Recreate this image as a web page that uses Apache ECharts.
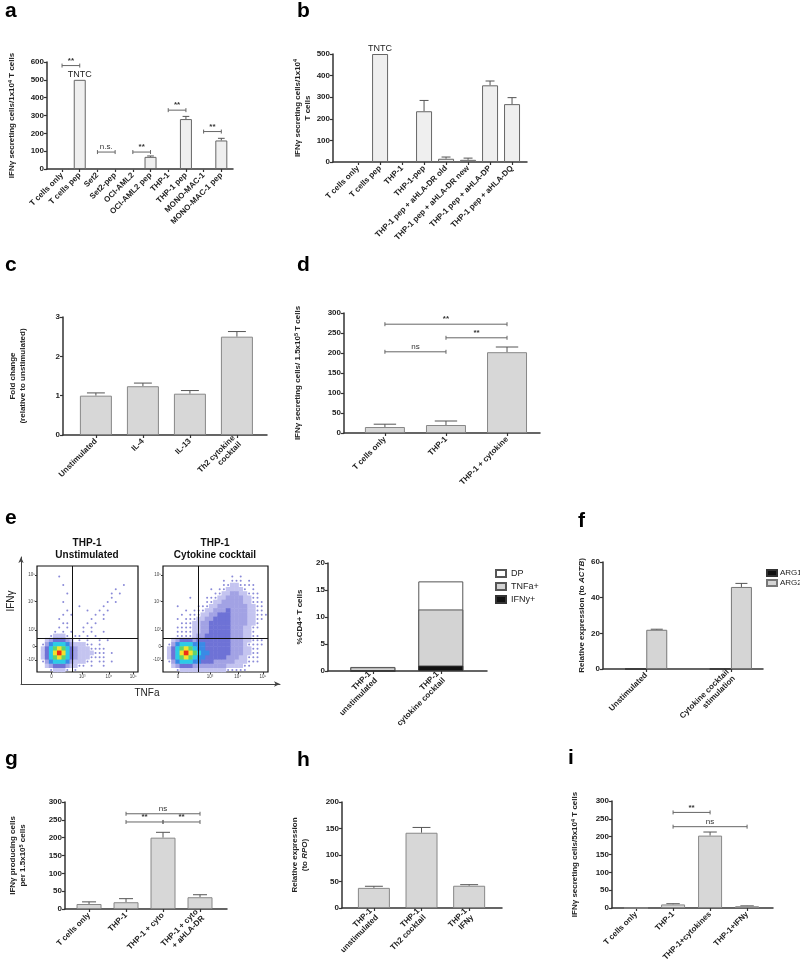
<!DOCTYPE html>
<html>
<head>
<meta charset="utf-8">
<script src="https://cdn.jsdelivr.net/npm/echarts@6/dist/echarts.min.js"></script>
<style>
  html, body { margin: 0; padding: 0; background: #fff; }
  #chart { width: 800px; height: 967px; }
</style>
</head>
<body>
<div id="chart"></div>
<script>
// ---------- data ----------
// a
const aCats = ['T cells only', 'T cells pep', 'Set2', 'Set2-pep', 'OCI-AML2', 'OCI-AML2 pep', 'THP-1', 'THP-1 pep', 'MONO-MAC-1', 'MONO-MAC-1 pep'];
const aVals = [0, 500, 0, 2, 0, 68, 0, 280, 0, 160];
const aErr = [0, 0, 0, 0, 0, 5, 0, 15, 0, 12];
const aSig = [[0, 1, 580, '**'], [2, 3, 95, 'n.s.'], [4, 5, 95, '**'], [6, 7, 330, '**'], [8, 9, 210, '**']];
const aNotes = [[1, 500, 'TNTC']];
// b
const bCats = ['T cells only', 'T cells pep', 'THP-1', 'THP-1-pep', 'THP-1 pep + aHLA-DR old', 'THP-1 pep + aHLA-DR new', 'THP-1 pep + aHLA-DP', 'THP-1 pep + aHLA-DQ'];
const bVals = [0, 500, 2, 235, 15, 10, 355, 268];
const bErr = [0, 0, 0, 50, 8, 8, 20, 30];
const bNotes = [[1, 500, 'TNTC']];
// c
const cCats = ['Unstimulated', 'IL-4', 'IL-13', 'Th2 cytokine\ncocktail'];
const cVals = [1.0, 1.24, 1.05, 2.5];
const cErr = [0.07, 0.08, 0.08, 0.13];
// d
const dCats = ['T cells only', 'THP-1', 'THP-1 + cytokine'];
const dVals = [15, 20, 202];
const dErr = [7, 10, 13];
const dSig = [[0, 2, 272, '**'], [1, 2, 238, '**'], [0, 1, 203, 'ns']];
// e (stacked: IFNy+ at the bottom, then TNFa+, then DP)
const eCats = ['THP-1\nunstimulated', 'THP-1\ncytokine cocktail'];
const eIFNy = [0, 1.0];
const eTNFa = [0.7, 10.4];
const eDP = [0.05, 5.2];
// e flow plots: density per cell, '.' = none, 1 = sparse dots ... 9 = densest
const flowUnstim = [
  '.........................',
  '.........................',
  '.....1...................',
  '.........................',
  '......1..............1...',
  '...................1.....',
  '.......1..........1.1....',
  '..................1......',
  '......1..........1.1.....',
  '..........1.....1........',
  '.......1....1..1.1.......',
  '......1.1.....1.1........',
  '.....1.......1..1........',
  '......11....1.1..........',
  '.....1.1...1.1...........',
  '....1.1.1..1.1..1........',
  '...12221.11.1.1..........',
  '..2344432.1.1..1.1.......',
  '.1356665322211.1.........',
  '.2467876432221111........',
  '.2468986432222111.1......',
  '.2467876432221111........',
  '.1356665322211.11.1......',
  '..2344432211.1..1........',
  '...12221.1...............'
];
const flowCyto = [
  '.........................',
  '.........................',
  '................1.1......',
  '..............1.111.1....',
  '..............11221111...',
  '...........1.1122221.1...',
  '............11223322111..',
  '......1...1112233332211..',
  '..........11223333322111.',
  '...1....1112233333332211.',
  '.....1.11122333433332211.',
  '....1.1112233444333322111',
  '...1.1112233444433332211.',
  '....1112233444443333221..',
  '...11112233444443332211..',
  '...1111223344444333221...',
  '...11112334444443332211..',
  '..2344434444444433322111.',
  '.13566655544444433321111.',
  '.2467876554444443332211..',
  '.2468987655444443332211..',
  '.2467876554444433322111..',
  '.1356665544433333222111..',
  '..2344433333333222211....',
  '...12222222222211111.....'
];
const flowXTicks = [3.6, 11.2, 17.8, 23.8];
const flowXLabels = ['0', '10³', '10⁴', '10⁵'];
const flowYTicks = [2.8, 6, 9.9, 16.6, 22.9];
const flowYLabels = ['-10³', '0', '10³', '10⁴', '10⁵'];
// f
const fCats = ['Unstimulated', 'Cytokine cocktail\nstimulation'];
const fARG1 = [0, 0];
const fARG2 = [22, 46];
const fARG2Err = [0.3, 2];
// g
const gCats = ['T cells only', 'THP-1', 'THP-1 + cyto', 'THP-1 + cyto\n+ aHLA-DR'];
const gVals = [14, 19, 200, 33];
const gErr = [6, 10, 15, 7];
const gSig = [[1, 3, 267, 'ns'], [1, 2, 244, '**'], [2, 3, 244, '**']];
// h
const hCats = ['THP-1\nunstimulated', 'THP-1\nTh2 cocktail', 'THP-1\nIFNy'];
const hVals = [38, 142, 42];
const hErr = [3, 10, 2];
// i
const iCats = ['T cells only', 'THP-1', 'THP-1+cytokines', 'THP-1+IFNy'];
const iVals = [0, 10, 203, 5];
const iErr = [0, 2, 10, 1];
const iSig = [[1, 2, 268, '**'], [1, 3, 228, 'ns']];

// ---------- helpers ----------
const FONT = '"Liberation Sans", Arial, sans-serif';
const AX = '#333';
const FLOW_N = 25;
const FLOW_COLORS = [null, '#8a8ad8', '#c4c4f0', '#a2a2e4', '#6e72d6', '#3a8ae6', '#2ccbe6', '#63d36a', '#f4e02c', '#ee2c16'];
const RICH = {
  sup: { fontSize: 5.5, fontWeight: 'bold', color: '#222', fontFamily: FONT, verticalAlign: 'top', lineHeight: 10 },
  it: { fontSize: 8, fontWeight: 'bold', fontStyle: 'italic', color: '#222', fontFamily: FONT, lineHeight: 10 }
};

const grids = [], xAxis = [], yAxis = [], series = [], legends = [], texts = [];

function addGrid(g) { grids.push(g); return grids.length - 1; }

function catX(gi, cats, min, max) {
  const ticks = cats.map((c, i) => i);
  xAxis.push({
    gridIndex: gi, type: 'value', min, max, splitLine: { show: false },
    axisLine: { show: true, onZero: false, lineStyle: { color: AX, width: 1.5 } },
    axisTick: { show: true, customValues: ticks, length: 3, lineStyle: { color: AX, width: 1.2 } },
    axisLabel: {
      customValues: ticks, formatter: v => cats[Math.round(v)], rotate: 45, margin: 5,
      fontSize: 8, fontWeight: 'bold', color: '#222', fontFamily: FONT, lineHeight: 9
    }
  });
}

function valY(gi, max, step, name, gap) {
  yAxis.push({
    gridIndex: gi, type: 'value', min: 0, max, interval: step, splitLine: { show: false },
    axisLine: { show: true, onZero: false, lineStyle: { color: AX, width: 1.5 } },
    axisTick: { show: true, length: 3, lineStyle: { color: AX, width: 1.2 } },
    axisLabel: { fontSize: 8, fontWeight: 'bold', color: '#222', fontFamily: FONT, margin: 3 },
    name, nameLocation: 'middle', nameRotate: 90, nameGap: gap,
    nameTextStyle: { fontSize: 8, fontWeight: 'bold', color: '#222', fontFamily: FONT, lineHeight: 10, rich: RICH }
  });
}

function barS(gi, xs, vals, width, fill, edge, extra) {
  series.push(Object.assign({
    type: 'bar', xAxisIndex: gi, yAxisIndex: gi, barWidth: width, barGap: '-100%', silent: true,
    data: vals.map((v, i) => [xs[i], v]),
    itemStyle: { color: fill, borderColor: edge, borderWidth: 1 }
  }, extra || {}));
}

function errS(gi, xs, vals, err, cap) {
  return {
    type: 'custom', xAxisIndex: gi, yAxisIndex: gi, silent: true,
    data: vals.map((v, i) => [xs[i], v, err[i]]),
    renderItem: (params, api) => {
      const e = api.value(2);
      if (!e) return null;
      const p0 = api.coord([api.value(0), api.value(1)]);
      const p1 = api.coord([api.value(0), api.value(1) + e]);
      const st = { stroke: '#555', lineWidth: 1 };
      return {
        type: 'group', children: [
          { type: 'line', shape: { x1: p0[0], y1: p0[1], x2: p1[0], y2: p1[1] }, style: st },
          { type: 'line', shape: { x1: p1[0] - cap, y1: p1[1], x2: p1[0] + cap, y2: p1[1] }, style: st }
        ]
      };
    }
  };
}

function sigS(gi, list) {
  return {
    type: 'custom', xAxisIndex: gi, yAxisIndex: gi, silent: true,
    data: list.map(s => [s[0], s[2], s[1]]),
    renderItem: (params, api) => {
      const s = list[params.dataIndex];
      const p0 = api.coord([s[0], s[2]]), p1 = api.coord([s[1], s[2]]);
      const st = { stroke: '#666', lineWidth: 1 };
      const bold = s[3].indexOf('*') >= 0;
      return {
        type: 'group', children: [
          { type: 'line', shape: { x1: p0[0], y1: p0[1], x2: p1[0], y2: p1[1] }, style: st },
          { type: 'line', shape: { x1: p0[0], y1: p0[1] - 2, x2: p0[0], y2: p0[1] + 2 }, style: st },
          { type: 'line', shape: { x1: p1[0], y1: p1[1] - 2, x2: p1[0], y2: p1[1] + 2 }, style: st },
          {
            type: 'text', x: (p0[0] + p1[0]) / 2, y: p0[1] - 1,
            style: {
              text: s[3], fill: '#333', font: (bold ? 'bold ' : '') + '8px ' + FONT,
              textAlign: 'center', align: 'center', textVerticalAlign: 'bottom', verticalAlign: 'bottom'
            }
          }
        ]
      };
    }
  };
}

function noteS(gi, list) {
  return {
    type: 'custom', xAxisIndex: gi, yAxisIndex: gi, silent: true,
    data: list.map(n => [n[0], n[1]]),
    renderItem: (params, api) => {
      const n = list[params.dataIndex];
      const p = api.coord([n[0], n[1]]);
      return {
        type: 'text', x: p[0], y: p[1] - 1,
        style: {
          text: n[2], fill: '#222', font: '9px ' + FONT,
          textAlign: 'center', align: 'center', textVerticalAlign: 'bottom', verticalAlign: 'bottom'
        }
      };
    }
  };
}

function barPanel(p) {
  const gi = addGrid({ left: p.left, top: p.top, width: p.width, height: p.height });
  catX(gi, p.cats, p.xMin, p.xMax);
  valY(gi, p.yMax, p.yStep, p.name, p.gap);
  const xs = p.cats.map((c, i) => i);
  barS(gi, xs, p.vals, p.barW, p.fill, p.edge);
  if (p.err) series.push(errS(gi, xs, p.vals, p.err, p.barW * 0.28));
  if (p.sig) series.push(sigS(gi, p.sig));
  if (p.notes) series.push(noteS(gi, p.notes));
  return gi;
}

function flowCells(rows) {
  const out = [];
  rows.forEach((r, ri) => {
    for (let c = 0; c < r.length; c++) {
      if (r[c] !== '.') out.push([c + 0.5, rows.length - ri - 0.5, +r[c]]);
    }
  });
  return out.sort((p, q) => p[2] - q[2]);
}

function pick(ticks, labels) {
  return v => {
    const k = ticks.findIndex(t => Math.abs(t - v) < 0.01);
    return k < 0 ? '' : labels[k];
  };
}

function flowPlot(g, rows, vLine, hLine) {
  const gi = addGrid(Object.assign({ show: true, borderColor: '#111', borderWidth: 1.2, backgroundColor: '#fff' }, g));
  const cw = g.width / FLOW_N, chh = g.height / FLOW_N;
  const small = { fontSize: 4.5, color: '#444', fontFamily: FONT, margin: 2 };
  xAxis.push({
    gridIndex: gi, type: 'value', min: 0, max: FLOW_N, splitLine: { show: false }, axisLine: { show: false },
    axisTick: { show: true, customValues: flowXTicks, length: 2, lineStyle: { color: '#333' } },
    axisLabel: Object.assign({ customValues: flowXTicks, formatter: pick(flowXTicks, flowXLabels) }, small)
  });
  yAxis.push({
    gridIndex: gi, type: 'value', min: 0, max: FLOW_N, splitLine: { show: false }, axisLine: { show: false },
    axisTick: { show: true, customValues: flowYTicks, length: 2, lineStyle: { color: '#333' } },
    axisLabel: Object.assign({ customValues: flowYTicks, formatter: pick(flowYTicks, flowYLabels) }, small)
  });
  series.push({
    type: 'scatter', xAxisIndex: gi, yAxisIndex: gi, silent: true, data: flowCells(rows),
    symbol: v => (v[2] === 1 ? 'circle' : 'rect'),
    symbolSize: v => (v[2] === 1 ? 2 : [cw + 0.5, chh + 0.5]),
    itemStyle: { color: p => FLOW_COLORS[p.value[2]], opacity: 1 },
    markLine: {
      silent: true, symbol: 'none', label: { show: false }, animation: false,
      lineStyle: { color: '#111', width: 1, type: 'solid' },
      data: [{ xAxis: vLine }, { yAxis: hLine }]
    }
  });
}

// ---------- panels ----------
barPanel({ left: 47, top: 62, width: 186, height: 107, cats: aCats, xMin: -0.85, xMax: 9.66, yMax: 600, yStep: 100,
  vals: aVals, err: aErr, sig: aSig, notes: aNotes, barW: 12, fill: '#efefef', edge: '#666',
  name: 'IFNγ secreting cells/1x10{sup|4} T cells', gap: 30 });

barPanel({ left: 333, top: 54, width: 194, height: 108, cats: bCats, xMin: -1.14, xMax: 7.68, yMax: 500, yStep: 100,
  vals: bVals, err: bErr, notes: bNotes, barW: 16, fill: '#efefef', edge: '#666',
  name: 'IFNγ secreting cells/1x10{sup|4}\nT cells', gap: 20 });

barPanel({ left: 63, top: 317, width: 204, height: 118, cats: cCats, xMin: -0.70, xMax: 3.64, yMax: 3, yStep: 1,
  vals: cVals, err: cErr, barW: 32, fill: '#d7d7d7', edge: '#888',
  name: 'Fold change\n(relative to unstimulated)', gap: 35 });

barPanel({ left: 344, top: 313, width: 196, height: 120, cats: dCats, xMin: -0.67, xMax: 2.54, yMax: 300, yStep: 50,
  vals: dVals, err: dErr, sig: dSig, barW: 40, fill: '#d7d7d7', edge: '#888',
  name: 'IFNγ secreting cells/ 1.5x10{sup|5} T cells', gap: 41 });

// e: flow plots
const outer = addGrid({ left: 21, top: 557, width: 259, height: 127 });
const arrowAxis = {
  gridIndex: outer, type: 'value', min: 0, max: 1, splitLine: { show: false }, axisTick: { show: false }, axisLabel: { show: false },
  axisLine: { show: true, onZero: false, symbol: ['none', 'arrow'], symbolSize: [4, 6], lineStyle: { color: '#444', width: 1 } }
};
xAxis.push(Object.assign({}, arrowAxis));
yAxis.push(Object.assign({}, arrowAxis));
flowPlot({ left: 37, top: 566, width: 101, height: 106 }, flowUnstim, 8.75, 7.85);
flowPlot({ left: 163, top: 566, width: 105, height: 106 }, flowCyto, 8.5, 7.85);

// e: stacked bar, drawn back to front from running totals
const eGi = addGrid({ left: 328, top: 563, width: 159, height: 108 });
catX(eGi, eCats, -0.66, 1.68);
valY(eGi, 20, 5, '%CD4+ T cells', 23);
const eXs = eCats.map((c, i) => i);
const eTopTNFa = eIFNy.map((v, i) => v + eTNFa[i]);
const eTopDP = eTopTNFa.map((v, i) => v + eDP[i]);
barS(eGi, eXs, eTopDP, 45, '#ffffff', '#555', { name: 'DP' });
barS(eGi, eXs, eTopTNFa, 45, '#d3d3d3', '#555', { name: 'TNFa+' });
barS(eGi, eXs, eIFNy, 45, '#111', '#333', { name: 'IFNy+' });
legends.push({
  left: 490, top: 564, orient: 'vertical', itemWidth: 10, itemHeight: 7, itemGap: 4, selectedMode: false,
  icon: 'rect', data: ['DP', 'TNFa+', 'IFNy+'], textStyle: { fontSize: 9, color: '#222', fontFamily: FONT }
});

// f: grouped bars
const fGi = addGrid({ left: 603, top: 562, width: 160, height: 107 });
catX(fGi, fCats, -0.51, 1.38);
valY(fGi, 60, 20, 'Relative expression (to {it|ACTB})', 13);
const fX1 = fCats.map((c, i) => i - 0.125);
const fX2 = fCats.map((c, i) => i + 0.125);
barS(fGi, fX1, fARG1, 21, '#111', '#333', { name: 'ARG1' });
barS(fGi, fX2, fARG2, 21, '#d5d5d5', '#777', { name: 'ARG2' });
series.push(errS(fGi, fX2, fARG2, fARG2Err, 6));
legends.push({
  left: 761, top: 564, orient: 'vertical', itemWidth: 10, itemHeight: 6, itemGap: 2, itemStyle: {}, selectedMode: false,
  icon: 'rect', data: ['ARG1', 'ARG2'], textStyle: { fontSize: 8, color: '#222', fontFamily: FONT, padding: [0, 0, 0, -2] }
});

barPanel({ left: 65, top: 802, width: 162, height: 107, cats: gCats, xMin: -0.65, xMax: 3.73, yMax: 300, yStep: 50,
  vals: gVals, err: gErr, sig: gSig, barW: 25, fill: '#d7d7d7', edge: '#888',
  name: 'IFNγ producing cells\nper 1.5x10{sup|5} cells', gap: 37 });

barPanel({ left: 342, top: 802, width: 160, height: 106, cats: hCats, xMin: -0.67, xMax: 2.69, yMax: 200, yStep: 50,
  vals: hVals, err: hErr, barW: 32, fill: '#d7d7d7', edge: '#888',
  name: 'Relative expression\n(to {it|RPO})', gap: 32 });

barPanel({ left: 612, top: 801, width: 161, height: 107, cats: iCats, xMin: -0.65, xMax: 3.70, yMax: 300, yStep: 50,
  vals: iVals, err: iErr, sig: iSig, barW: 24, fill: '#d7d7d7', edge: '#888',
  name: 'IFNγ secreting cells/5x10{sup|4} T cells', gap: 32 });

// ---------- free text ----------
const letters = [['a', 5, 22], ['b', 297, 22], ['c', 5, 276], ['d', 297, 276], ['e', 5, 529], ['f', 578, 532], ['g', 5, 770], ['h', 297, 771], ['i', 568, 769]];
letters.forEach(l => texts.push({
  type: 'text', x: l[1], y: l[2],
  style: { text: l[0], font: 'bold 21px ' + FONT, fill: '#000', textVerticalAlign: 'bottom', verticalAlign: 'bottom' }
}));
[['THP-1\nUnstimulated', 87], ['THP-1\nCytokine cocktail', 215]].forEach(t => texts.push({
  type: 'text', x: t[1], y: 537,
  style: { text: t[0], font: 'bold 10px ' + FONT, fill: '#111', lineHeight: 12, textAlign: 'center', align: 'center', textVerticalAlign: 'top', verticalAlign: 'top' }
}));
texts.push({
  type: 'text', x: 11, y: 601, rotation: Math.PI / 2,
  style: { text: 'IFNγ', font: '10px ' + FONT, fill: '#222', textAlign: 'center', align: 'center', textVerticalAlign: 'middle', verticalAlign: 'middle' }
});
texts.push({
  type: 'text', x: 147, y: 693,
  style: { text: 'TNFa', font: '10px ' + FONT, fill: '#222', textAlign: 'center', align: 'center', textVerticalAlign: 'middle', verticalAlign: 'middle' }
});

const chart = echarts.init(document.getElementById('chart'));
chart.setOption({
  animation: false,
  backgroundColor: '#fff',
  textStyle: { fontFamily: FONT },
  grid: grids,
  xAxis,
  yAxis,
  legend: legends,
  series,
  graphic: texts
});
</script>
</body>
</html>
